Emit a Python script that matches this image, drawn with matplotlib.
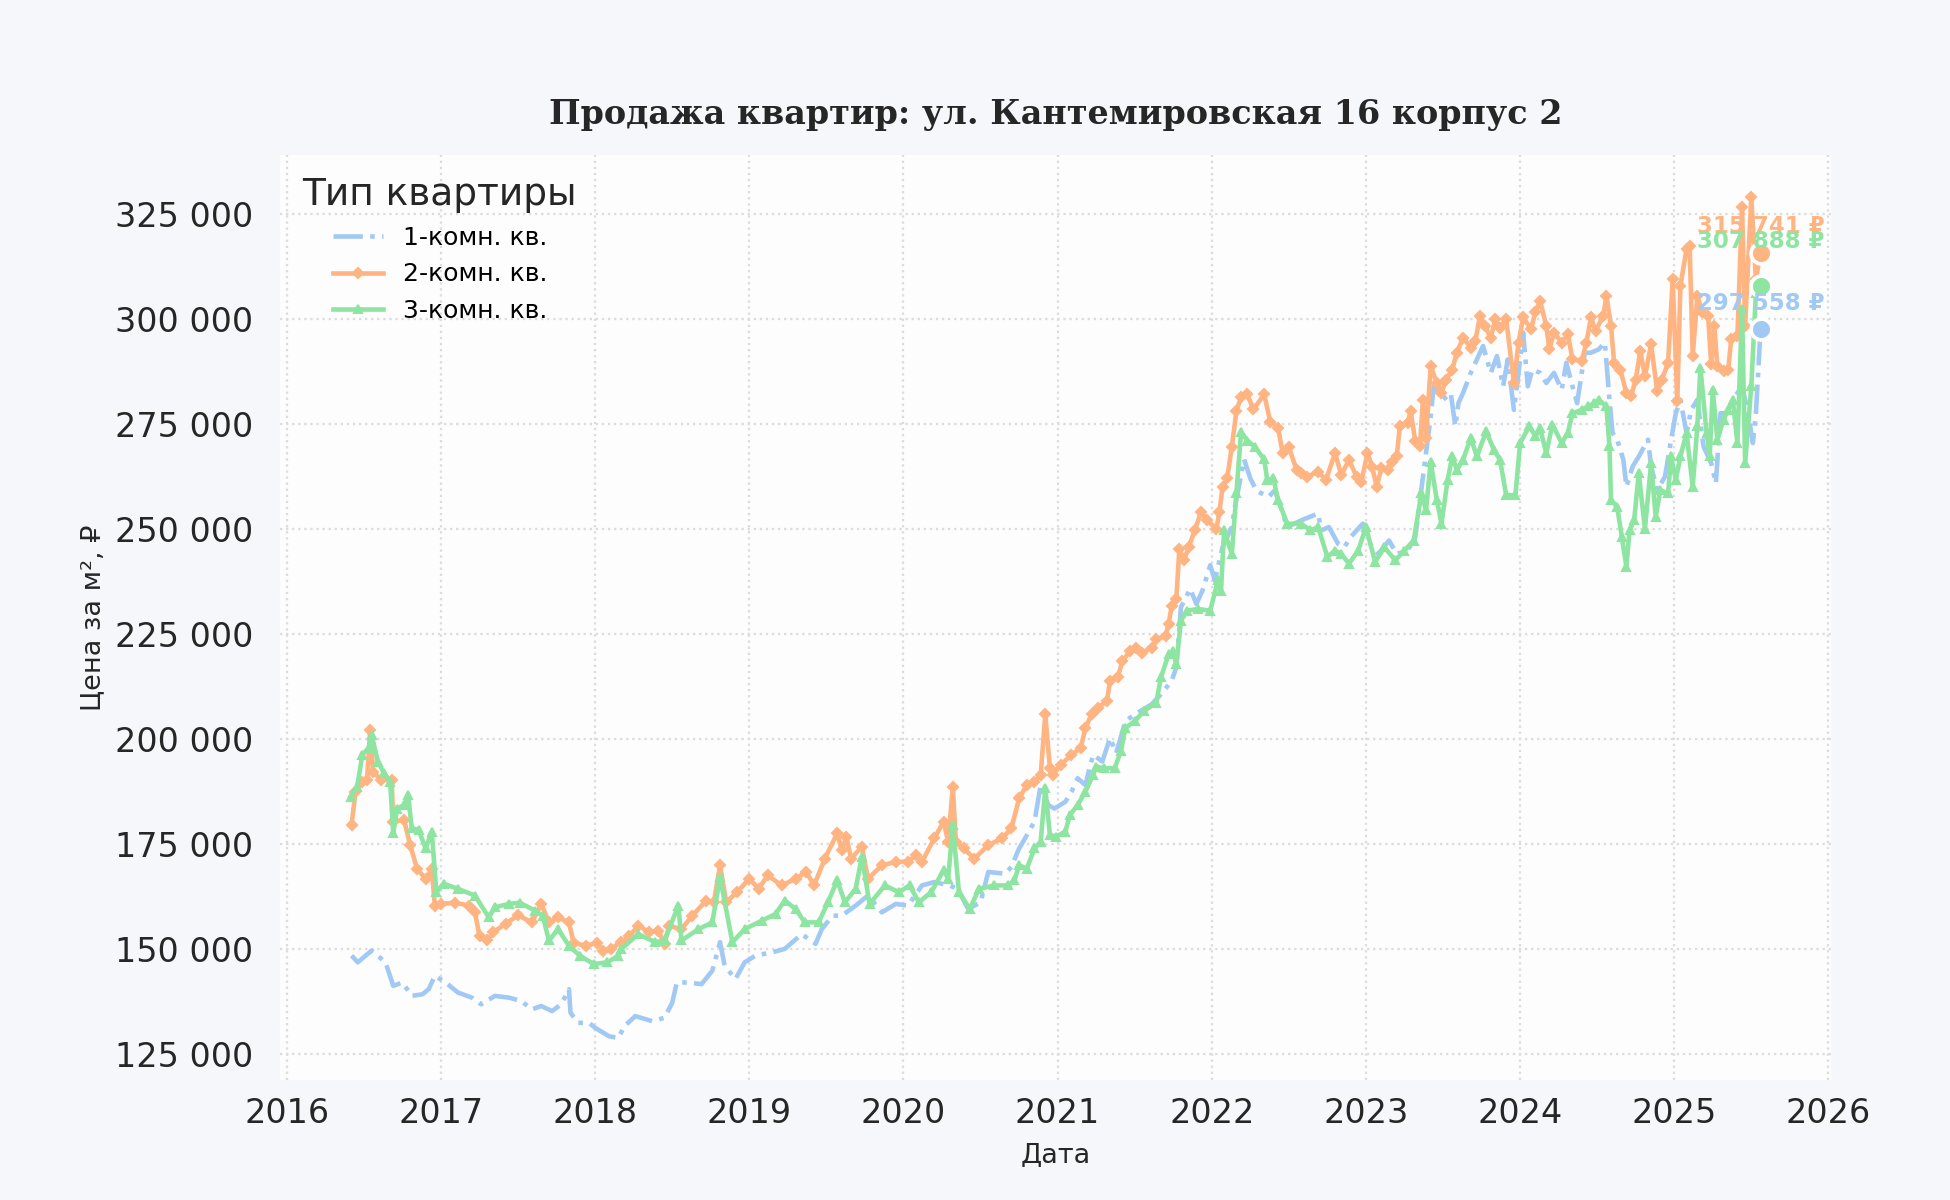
"""Продажа квартир: динамика цены за м² по типу квартиры."""
import matplotlib
matplotlib.use("Agg")
import matplotlib.pyplot as plt
from matplotlib.ticker import FuncFormatter, MultipleLocator

# --- данные (год в долях, цена в тыс. ₽ за м²) ---------------------------
x_1k = [
    2016.42, 2016.46, 2016.55, 2016.64, 2016.69, 2016.75, 2016.81, 2016.88, 2016.92, 2016.96,
    2017.03, 2017.11, 2017.20, 2017.26, 2017.35, 2017.44, 2017.52, 2017.59, 2017.65, 2017.72,
    2017.78, 2017.83, 2017.84, 2017.89, 2017.96, 2018.00, 2018.09, 2018.15, 2018.19, 2018.26,
    2018.37, 2018.45, 2018.50, 2018.53, 2018.60, 2018.69, 2018.76, 2018.81, 2018.84, 2018.91,
    2018.97, 2019.04, 2019.15, 2019.23, 2019.34, 2019.43, 2019.47, 2019.54, 2019.60, 2019.69,
    2019.77, 2019.86, 2019.95, 2020.03, 2020.12, 2020.20, 2020.30, 2020.35, 2020.42, 2020.50,
    2020.55, 2020.66, 2020.70, 2020.75, 2020.77, 2020.85, 2020.89, 2020.94, 2020.98, 2021.05,
    2021.09, 2021.13, 2021.18, 2021.23, 2021.29, 2021.34, 2021.38, 2021.44, 2021.50, 2021.61,
    2021.67, 2021.74, 2021.77, 2021.80, 2021.86, 2021.90, 2021.94, 2021.99, 2022.02, 2022.07,
    2022.13, 2022.15, 2022.21, 2022.25, 2022.29, 2022.37, 2022.41, 2022.49, 2022.58, 2022.66,
    2022.69, 2022.71, 2022.76, 2022.82, 2022.86, 2022.90, 2022.98, 2023.01, 2023.08, 2023.15,
    2023.20, 2023.27, 2023.32, 2023.37, 2023.39, 2023.42, 2023.44, 2023.47, 2023.50, 2023.55,
    2023.58, 2023.60, 2023.63, 2023.68, 2023.72, 2023.76, 2023.81, 2023.85, 2023.89, 2023.92,
    2023.96, 2023.99, 2024.02, 2024.05, 2024.08, 2024.13, 2024.17, 2024.22, 2024.27, 2024.30,
    2024.34, 2024.37, 2024.42, 2024.46, 2024.51, 2024.55, 2024.58, 2024.60, 2024.63, 2024.67,
    2024.69, 2024.73, 2024.77, 2024.83, 2024.85, 2024.89, 2024.94, 2024.98, 2025.01, 2025.04,
    2025.08, 2025.11, 2025.15, 2025.19, 2025.24, 2025.27, 2025.30, 2025.35, 2025.38, 2025.41,
    2025.44, 2025.48, 2025.51, 2025.53, 2025.56,
]
y_1k = [
    148.4, 146.8, 149.6, 146.8, 141.2, 142.0, 138.8, 139.2, 140.4, 143.6,
    142.0, 139.6, 138.4, 136.8, 138.8, 138.4, 137.6, 135.6, 136.4, 135.2,
    136.8, 140.4, 134.8, 132.4, 132.4, 131.2, 129.2, 128.8, 131.6, 134.0,
    132.8, 133.6, 137.2, 142.0, 142.0, 141.6, 144.8, 151.6, 146.0, 142.8,
    146.8, 148.4, 149.2, 150.0, 153.5, 151.2, 154.7, 157.9, 157.9, 160.3,
    162.7, 158.7, 160.7, 160.3, 165.1, 165.9, 165.1, 164.3, 159.5, 161.1,
    168.3, 167.9, 169.5, 173.9, 175.1, 180.3, 189.0, 184.2, 183.4, 185.0,
    187.4, 190.6, 189.0, 196.2, 194.6, 200.2, 196.6, 204.2, 205.8, 208.2,
    210.6, 213.8, 217.0, 231.3, 235.7, 232.1, 235.3, 241.3, 237.7, 245.6,
    250.4, 255.2, 266.5, 262.0, 259.0, 257.6, 259.2, 250.4, 252.0, 253.2,
    253.6, 249.6, 250.4, 246.4, 245.6, 248.0, 251.2, 247.2, 244.0, 247.2,
    244.0, 244.8, 248.0, 262.4, 268.0, 276.7, 283.9, 282.3, 280.7, 282.3,
    274.4, 279.9, 282.3, 287.1, 290.3, 293.5, 287.1, 291.1, 283.9, 290.3,
    278.3, 287.1, 296.7, 283.9, 287.9, 287.1, 284.7, 287.1, 283.1, 289.5,
    283.9, 279.9, 291.9, 291.9, 292.7, 294.3, 280.7, 272.8, 271.2, 266.4,
    260.0, 264.8, 267.2, 271.2, 264.8, 259.2, 262.4, 271.2, 277.5, 280.7,
    272.8, 278.3, 280.7, 269.6, 265.6, 260.8, 277.5, 277.5, 280.7, 282.3,
    283.9, 277.5, 270.4, 277.5, 297.558,
]

x_2k = [
    2016.42, 2016.445, 2016.49, 2016.52, 2016.54, 2016.56, 2016.61, 2016.68, 2016.69, 2016.76,
    2016.80, 2016.845, 2016.90, 2016.94, 2016.96, 2017.00, 2017.09, 2017.18, 2017.22, 2017.25,
    2017.30, 2017.34, 2017.42, 2017.50, 2017.59, 2017.65, 2017.70, 2017.76, 2017.83, 2017.86,
    2017.94, 2018.01, 2018.05, 2018.10, 2018.17, 2018.22, 2018.28, 2018.35, 2018.41, 2018.45,
    2018.48, 2018.56, 2018.63, 2018.72, 2018.77, 2018.81, 2018.85, 2018.92, 2019.00, 2019.06,
    2019.12, 2019.21, 2019.30, 2019.37, 2019.42, 2019.49, 2019.57, 2019.60, 2019.63, 2019.66,
    2019.73, 2019.77, 2019.86, 2019.95, 2020.03, 2020.08, 2020.12, 2020.20, 2020.26, 2020.29,
    2020.32, 2020.34, 2020.39, 2020.46, 2020.55, 2020.64, 2020.70, 2020.75, 2020.80, 2020.85,
    2020.89, 2020.92, 2020.95, 2020.97, 2021.02, 2021.09, 2021.15, 2021.18, 2021.22, 2021.26,
    2021.32, 2021.34, 2021.39, 2021.42, 2021.47, 2021.51, 2021.55, 2021.61, 2021.64, 2021.70,
    2021.72, 2021.74, 2021.77, 2021.79, 2021.82, 2021.85, 2021.89, 2021.93, 2021.97, 2022.03,
    2022.05, 2022.07, 2022.10, 2022.13, 2022.16, 2022.19, 2022.23, 2022.27, 2022.34, 2022.38,
    2022.43, 2022.46, 2022.50, 2022.55, 2022.58, 2022.62, 2022.69, 2022.74, 2022.80, 2022.84,
    2022.89, 2022.94, 2022.97, 2023.01, 2023.04, 2023.07, 2023.10, 2023.14, 2023.17, 2023.20,
    2023.22, 2023.27, 2023.29, 2023.32, 2023.35, 2023.37, 2023.39, 2023.42, 2023.46, 2023.49,
    2023.52, 2023.56, 2023.59, 2023.63, 2023.68, 2023.71, 2023.74, 2023.77, 2023.81, 2023.84,
    2023.87, 2023.91, 2023.96, 2023.99, 2024.02, 2024.07, 2024.10, 2024.13, 2024.17, 2024.19,
    2024.22, 2024.27, 2024.31, 2024.34, 2024.40, 2024.43, 2024.46, 2024.49, 2024.54, 2024.56,
    2024.59, 2024.61, 2024.65, 2024.69, 2024.72, 2024.75, 2024.78, 2024.81, 2024.85, 2024.89,
    2024.92, 2024.96, 2024.99, 2025.02, 2025.04, 2025.08, 2025.10, 2025.12, 2025.15, 2025.18,
    2025.22, 2025.24, 2025.26, 2025.28, 2025.32, 2025.35, 2025.37, 2025.41, 2025.44, 2025.46,
    2025.50, 2025.53, 2025.56,
]
y_2k = [
    179.5, 187.4, 189.8, 190.2, 202.0, 192.2, 190.2, 190.2, 180.3, 180.7,
    174.7, 169.0, 166.7, 169.0, 160.3, 160.7, 161.0, 160.3, 158.7, 153.0,
    152.0, 154.0, 156.0, 158.0, 156.3, 160.7, 156.3, 157.5, 156.3, 151.5,
    150.7, 151.5, 149.6, 150.0, 151.6, 153.0, 155.5, 154.0, 154.3, 151.2,
    155.5, 154.7, 157.9, 161.5, 161.1, 169.9, 161.1, 163.5, 166.7, 164.3,
    167.5, 165.1, 166.7, 168.3, 165.1, 171.5, 177.5, 173.5, 176.7, 171.5,
    174.3, 166.7, 169.9, 170.7, 170.7, 172.3, 170.7, 176.3, 180.3, 175.5,
    188.6, 175.5, 173.9, 171.5, 174.7, 176.3, 178.7, 185.8, 189.0, 189.8,
    191.4, 205.8, 193.0, 191.4, 193.8, 196.2, 197.8, 202.6, 205.8, 207.4,
    209.0, 213.8, 214.6, 218.5, 220.9, 221.7, 220.5, 221.7, 223.7, 224.5,
    227.3, 231.7, 233.3, 245.2, 242.5, 245.6, 249.6, 254.0, 252.0, 250.0,
    254.0, 260.0, 262.0, 269.5, 278.0, 281.4, 282.0, 278.4, 282.0, 275.4,
    274.0, 268.0, 269.5, 264.0, 263.2, 262.4, 263.6, 261.6, 268.0, 262.8,
    266.4, 262.4, 261.2, 268.0, 264.8, 260.0, 264.4, 264.0, 266.0, 267.2,
    274.4, 275.2, 278.0, 270.8, 269.6, 280.7, 271.6, 288.7, 284.7, 282.3,
    285.5, 287.9, 291.9, 295.5, 293.1, 294.7, 300.7, 298.3, 295.5, 299.9,
    297.9, 299.9, 284.7, 294.3, 300.3, 297.5, 301.5, 304.2, 298.3, 292.7,
    296.7, 294.3, 296.3, 290.3, 289.9, 294.3, 300.3, 297.1, 300.7, 305.5,
    298.3, 289.5, 287.9, 282.3, 281.5, 285.5, 292.3, 286.3, 293.9, 282.7,
    285.5, 289.5, 309.4, 280.3, 307.8, 316.6, 317.4, 291.1, 305.5, 301.5,
    300.7, 289.1, 298.3, 288.7, 287.5, 287.9, 295.1, 295.9, 326.6, 298.3,
    329.0, 309.4, 315.741,
]

x_3k = [
    2016.413, 2016.456, 2016.49, 2016.53, 2016.55, 2016.59, 2016.63, 2016.67, 2016.69, 2016.715,
    2016.76, 2016.787, 2016.81, 2016.855, 2016.90, 2016.94, 2016.97, 2017.017, 2017.11, 2017.22,
    2017.31, 2017.35, 2017.44, 2017.51, 2017.61, 2017.66, 2017.70, 2017.76, 2017.83, 2017.90,
    2017.99, 2018.08, 2018.15, 2018.17, 2018.28, 2018.39, 2018.45, 2018.54, 2018.56, 2018.67,
    2018.76, 2018.81, 2018.89, 2018.97, 2019.08, 2019.17, 2019.23, 2019.30, 2019.36, 2019.45,
    2019.51, 2019.57, 2019.62, 2019.69, 2019.73, 2019.78, 2019.88, 2019.97, 2020.04, 2020.10,
    2020.18, 2020.26, 2020.29, 2020.32, 2020.36, 2020.43, 2020.49, 2020.59, 2020.68, 2020.72,
    2020.75, 2020.80, 2020.85, 2020.89, 2020.92, 2020.95, 2020.99, 2021.05, 2021.08, 2021.13,
    2021.18, 2021.23, 2021.25, 2021.30, 2021.37, 2021.41, 2021.44, 2021.50, 2021.56, 2021.64,
    2021.67, 2021.72, 2021.75, 2021.77, 2021.80, 2021.84, 2021.91, 2021.99, 2022.04, 2022.06,
    2022.08, 2022.13, 2022.16, 2022.19, 2022.23, 2022.28, 2022.34, 2022.36, 2022.40, 2022.43,
    2022.49, 2022.58, 2022.64, 2022.69, 2022.75, 2022.80, 2022.84, 2022.89, 2022.95, 2023.00,
    2023.06, 2023.12, 2023.19, 2023.25, 2023.31, 2023.36, 2023.39, 2023.42, 2023.46, 2023.49,
    2023.53, 2023.56, 2023.59, 2023.63, 2023.68, 2023.72, 2023.78, 2023.83, 2023.87, 2023.91,
    2023.97, 2024.00, 2024.06, 2024.10, 2024.13, 2024.17, 2024.21, 2024.27, 2024.31, 2024.34,
    2024.40, 2024.44, 2024.48, 2024.51, 2024.56, 2024.58, 2024.59, 2024.63, 2024.66, 2024.69,
    2024.71, 2024.74, 2024.77, 2024.81, 2024.85, 2024.88, 2024.91, 2024.96, 2024.98, 2025.01,
    2025.04, 2025.08, 2025.12, 2025.15, 2025.17, 2025.21, 2025.23, 2025.25, 2025.28, 2025.32,
    2025.35, 2025.38, 2025.41, 2025.44, 2025.46, 2025.50, 2025.53, 2025.56,
]
y_3k = [
    186.2, 188.6, 196.2, 197.8, 201.0, 194.6, 191.8, 189.8, 177.5, 183.4,
    184.2, 186.6, 178.7, 178.3, 173.9, 177.9, 163.5, 165.5, 164.3, 162.7,
    157.5, 159.9, 160.7, 161.0, 159.1, 157.9, 152.0, 154.7, 150.7, 148.4,
    146.4, 146.8, 148.4, 150.0, 153.5, 151.6, 152.0, 160.3, 152.0, 154.7,
    156.3, 167.1, 151.6, 154.7, 156.7, 158.3, 161.5, 159.5, 156.3, 156.3,
    161.1, 166.3, 161.1, 164.3, 171.9, 160.7, 165.1, 163.5, 165.1, 161.1,
    163.5, 168.7, 166.7, 179.5, 163.5, 159.5, 164.3, 165.1, 165.1, 166.3,
    169.9, 169.1, 173.9, 175.5, 188.2, 177.1, 176.7, 177.9, 181.9, 184.2,
    187.4, 191.4, 193.4, 193.0, 193.0, 197.0, 202.6, 204.2, 206.6, 208.6,
    214.6, 220.1, 220.9, 217.7, 228.1, 230.5, 230.9, 230.5, 237.7, 235.3,
    249.6, 244.0, 258.4, 273.0, 271.0, 269.5, 266.5, 261.6, 262.0, 256.8,
    251.2, 251.2, 249.6, 250.4, 243.3, 244.8, 244.0, 241.7, 244.8, 250.4,
    242.1, 245.6, 242.5, 244.8, 247.2, 258.4, 254.4, 266.0, 256.8, 251.2,
    261.6, 267.2, 264.0, 266.4, 271.6, 267.2, 273.2, 268.8, 266.4, 258.0,
    258.0, 270.4, 274.4, 272.0, 273.9, 268.0, 274.8, 270.4, 272.8, 277.5,
    278.3, 279.1, 279.9, 280.7, 279.1, 269.6, 256.8, 255.2, 248.0, 240.9,
    249.6, 252.0, 263.2, 250.0, 265.6, 252.8, 259.2, 258.4, 267.2, 261.6,
    267.2, 272.8, 260.0, 274.4, 288.3, 272.8, 267.2, 283.1, 271.2, 276.0,
    278.3, 280.7, 270.4, 302.3, 265.6, 283.9, 306.2, 307.888,
]

labels = ["1-комн. кв.", "2-комн. кв.", "3-комн. кв."]
colors = ["#a1c9f4", "#ffb482", "#8de5a1"]
label_offsets = [12, 12.5, 21]  # подписи последних значений, pt вверх от точки

FIG_BG = "#f6f7fb"
AX_BG = "#fdfdfe"
TEXT = "#262626"


def fmt_thousands(v, _pos=None):
    return f"{int(round(v)):,}".replace(",", " ")


fig = plt.figure(figsize=(13, 8), dpi=150, facecolor=FIG_BG)
ax = fig.add_axes([0.1436, 0.1, 0.7954, 0.771])
ax.set_facecolor(AX_BG)

series = [
    (x_1k, y_1k, dict(linestyle="-.", marker=None)),
    (x_2k, y_2k, dict(linestyle="-", marker="D", markersize=3.4)),
    (x_3k, y_3k, dict(linestyle="-", marker="^", markersize=4.2)),
]
for (xs, ys, style), lab, col in zip(series, labels, colors):
    ax.plot(xs, [v * 1000 for v in ys], color=col, linewidth=2.2, label=lab, **style)

# последние значения
for (xs, ys, _), col, off in zip(series, colors, label_offsets):
    last_x, last_y = xs[-1], ys[-1] * 1000
    ax.plot(last_x, last_y, "o", color=col, markersize=10,
            markeredgecolor="white", markeredgewidth=1.8, zorder=5)
    ax.annotate(f"{fmt_thousands(last_y)} ₽", (last_x, last_y),
                xytext=(0, off), textcoords="offset points",
                ha="center", va="center", fontsize=11, fontweight="bold",
                color=col, zorder=6)

ax.xaxis.set_major_locator(MultipleLocator(1))
ax.xaxis.set_major_formatter(FuncFormatter(lambda v, p: f"{int(round(v))}"))
ax.yaxis.set_major_locator(MultipleLocator(25000))
ax.yaxis.set_major_formatter(FuncFormatter(fmt_thousands))
ax.tick_params(axis="both", labelsize=16, length=0, colors=TEXT)
ax.tick_params(axis="x", pad=8)
ax.tick_params(axis="y", pad=13)

ax.grid(True, linestyle=":", linewidth=1.1, color="#dcdcdc")
for spine in ax.spines.values():
    spine.set_visible(False)

ax.set_title("Продажа квартир: ул. Кантемировская 16 корпус 2",
             fontsize=16, fontweight="bold", family="DejaVu Serif",
             color=TEXT, pad=15)
ax.set_xlabel("Дата", fontsize=13, color=TEXT, labelpad=6)
ax.set_ylabel("Цена за м², ₽", fontsize=13, color=TEXT)

leg = ax.legend(title="Тип квартиры", loc="upper left", fontsize=12,
                title_fontsize=18, frameon=False, handlelength=2.0)
leg.get_title().set_color(TEXT)

fig.savefig("out.png", dpi=150, facecolor=FIG_BG)
